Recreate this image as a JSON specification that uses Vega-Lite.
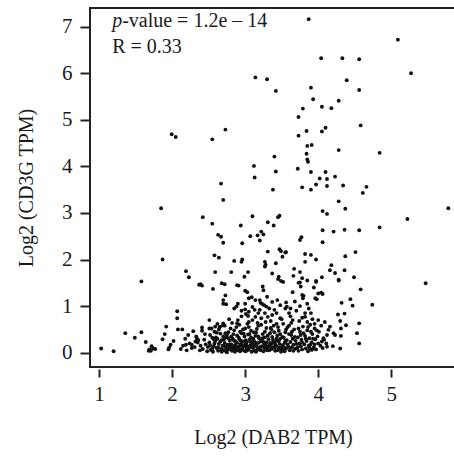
{
  "$schema": "https://vega.github.io/schema/vega-lite/v6.json",
  "width": 366,
  "height": 359,
  "autosize": {"type": "none"},
  "padding": {"left": 90, "top": 8, "right": 0, "bottom": 93},
  "background": "white",
  "config": {
    "view": {"stroke": "#222", "strokeWidth": 2},
    "font": "Liberation Serif",
    "axis": {
      "grid": false,
      "domain": false,
      "tickColor": "#222",
      "tickWidth": 2,
      "labelColor": "#1a1a1a",
      "labelFont": "Liberation Serif",
      "labelFontSize": 21,
      "titleFont": "Liberation Serif",
      "titleFontSize": 20,
      "titleFontWeight": "normal",
      "titleColor": "#1a1a1a"
    }
  },
  "layer": [
    {
      "data": {
        "values": [
          {"x":3.87,"y":7.16},{"x":5.09,"y":6.72},{"x":4.04,"y":6.32},{"x":4.33,"y":6.32},{"x":4.56,"y":6.30},{"x":3.14,"y":5.91},{"x":3.30,"y":5.87},{"x":5.27,"y":6.0},{"x":3.42,"y":5.62},{"x":3.90,"y":5.69},{"x":4.39,"y":5.85},{"x":4.56,"y":5.64},{"x":3.93,"y":5.44},{"x":4.28,"y":5.41},{"x":4.05,"y":5.28},{"x":4.18,"y":5.25},{"x":3.79,"y":5.24},{"x":3.73,"y":5.06},{"x":4.58,"y":4.88},{"x":4.10,"y":4.83},{"x":4.05,"y":4.75},{"x":3.84,"y":4.76},{"x":3.73,"y":4.66},{"x":3.91,"y":4.46},{"x":3.85,"y":4.44},{"x":4.28,"y":4.35},{"x":4.84,"y":4.29},{"x":3.84,"y":4.27},{"x":3.40,"y":4.21},{"x":3.85,"y":4.15},{"x":3.86,"y":4.10},{"x":3.12,"y":4.01},{"x":3.42,"y":3.89},{"x":3.72,"y":3.95},{"x":3.90,"y":3.88},{"x":4.10,"y":3.88},
          {"x":1.995,"y":4.69},{"x":2.05,"y":4.63},{"x":2.55,"y":4.58},{"x":2.73,"y":4.79},{"x":2.67,"y":3.63},{"x":2.70,"y":3.28},{"x":1.85,"y":3.10},{"x":2.42,"y":2.91},{"x":2.55,"y":2.77},
          {"x":3.13,"y":3.76},{"x":3.38,"y":3.50},{"x":3.10,"y":2.93},{"x":3.47,"y":2.94},{"x":3.45,"y":2.91},{"x":3.31,"y":2.80},{"x":3.39,"y":2.73},{"x":2.94,"y":2.73},{"x":2.63,"y":2.53},{"x":2.67,"y":2.49},{"x":3.22,"y":2.60},{"x":3.25,"y":2.54},{"x":3.17,"y":2.52},{"x":3.07,"y":2.50},{"x":3.20,"y":2.41},{"x":2.70,"y":2.36},{"x":2.96,"y":2.35},{"x":3.31,"y":2.17},{"x":3.47,"y":2.22},{"x":3.49,"y":2.18},{"x":3.55,"y":2.15},{"x":1.87,"y":2.0},{"x":2.58,"y":2.09},{"x":2.64,"y":2.04},{"x":2.85,"y":1.97},{"x":2.96,"y":2.0},{"x":2.95,"y":1.95},{"x":3.27,"y":1.95},{"x":3.28,"y":1.89},{"x":3.27,"y":1.85},{"x":3.42,"y":1.92},{"x":3.51,"y":2.06},{"x":2.19,"y":1.75},{"x":2.23,"y":1.62},{"x":2.59,"y":1.73},{"x":2.81,"y":1.73},{"x":3.04,"y":1.73},{"x":2.99,"y":1.63},{"x":3.37,"y":1.70},{"x":3.46,"y":1.63},{"x":3.45,"y":1.58},{"x":3.49,"y":1.54},{"x":3.52,"y":1.52},{"x":2.39,"y":1.47},{"x":2.68,"y":1.49},{"x":2.72,"y":1.47},{"x":2.89,"y":1.45},
          {"x":4.02,"y":3.74},{"x":4.12,"y":3.73},{"x":4.23,"y":3.78},{"x":3.78,"y":3.55},{"x":3.90,"y":3.50},{"x":3.97,"y":3.61},{"x":4.12,"y":3.58},{"x":4.34,"y":3.59},{"x":4.66,"y":3.56},{"x":4.61,"y":3.43},{"x":4.28,"y":3.25},{"x":4.06,"y":3.04},{"x":4.12,"y":2.98},{"x":4.37,"y":3.09},{"x":5.78,"y":3.10},{"x":5.22,"y":2.87},{"x":4.06,"y":2.63},{"x":4.21,"y":2.60},{"x":4.36,"y":2.64},{"x":4.56,"y":2.63},{"x":4.84,"y":2.69},{"x":3.77,"y":2.48},{"x":3.75,"y":2.42},{"x":4.06,"y":2.37},{"x":3.56,"y":2.16},{"x":3.82,"y":2.12},{"x":3.90,"y":2.10},{"x":3.82,"y":1.95},{"x":3.97,"y":2.0},{"x":4.37,"y":2.07},{"x":4.51,"y":2.16},{"x":4.18,"y":1.88},{"x":4.16,"y":1.77},{"x":4.23,"y":1.71},{"x":4.36,"y":1.77},{"x":3.67,"y":1.80},{"x":3.75,"y":1.73},{"x":3.66,"y":1.65},{"x":3.78,"y":1.60},{"x":3.85,"y":1.55},{"x":3.97,"y":1.54},{"x":3.75,"y":1.51},{"x":4.05,"y":1.62},{"x":4.28,"y":1.57},{"x":4.49,"y":1.62},{"x":5.47,"y":1.49},
          {"x":1.58,"y":1.53},{"x":2.07,"y":0.89},{"x":2.07,"y":0.74},{"x":2.08,"y":0.50},{"x":2.14,"y":0.50},{"x":1.92,"y":0.56},{"x":1.90,"y":0.40},{"x":1.87,"y":0.29},{"x":2.02,"y":0.25},{"x":1.98,"y":0.17},{"x":1.96,"y":0.11},{"x":1.95,"y":0.07},{"x":1.58,"y":0.44},{"x":1.36,"y":0.42},{"x":1.49,"y":0.32},{"x":1.64,"y":0.23},{"x":1.03,"y":0.09},{"x":1.20,"y":0.03},{"x":1.72,"y":0.14},{"x":1.69,"y":0.07},{"x":1.68,"y":0.04},{"x":1.74,"y":0.09},{"x":1.77,"y":0.08},{"x":1.71,"y":0.04},{"x":2.19,"y":0.17},{"x":2.29,"y":0.46},{"x":2.27,"y":0.17},{"x":2.32,"y":0.24},{"x":2.34,"y":0.31},{"x":2.36,"y":0.27},{"x":2.37,"y":1.46},
          {"x":2.41,"y":1.44},{"x":2.56,"y":1.37},{"x":2.91,"y":1.44},{"x":3.0,"y":1.33},{"x":3.03,"y":1.30},{"x":3.24,"y":1.42},{"x":3.25,"y":1.34},{"x":2.73,"y":1.23},{"x":2.70,"y":1.13},{"x":2.70,"y":1.05},{"x":2.74,"y":1.04},{"x":2.90,"y":1.05},{"x":2.88,"y":0.99},{"x":2.85,"y":0.95},{"x":3.05,"y":1.17},{"x":3.09,"y":1.19},{"x":3.14,"y":1.13},{"x":3.20,"y":1.13},{"x":3.21,"y":1.07},{"x":3.23,"y":1.05},{"x":3.26,"y":1.02},{"x":3.29,"y":0.99},{"x":3.37,"y":1.09},{"x":3.44,"y":1.13},{"x":3.56,"y":1.08},{"x":3.65,"y":1.30},{"x":3.78,"y":1.24},{"x":3.73,"y":1.50},{"x":3.0,"y":0.93},{"x":3.05,"y":0.88},{"x":3.01,"y":0.83},{"x":3.04,"y":0.79},{"x":3.13,"y":0.92},{"x":3.18,"y":0.85},{"x":3.14,"y":0.77},{"x":3.27,"y":0.85},{"x":3.37,"y":0.81},{"x":3.31,"y":0.77},{"x":3.43,"y":0.85},{"x":3.48,"y":0.74},{"x":3.57,"y":0.99},{"x":3.60,"y":0.85},{"x":2.51,"y":0.70},{"x":2.59,"y":0.56},{"x":2.70,"y":0.63},{"x":2.82,"y":0.64},{"x":2.89,"y":0.63},
          {"x":3.76,"y":1.42},{"x":3.80,"y":1.22},{"x":3.79,"y":1.17},{"x":3.94,"y":1.40},{"x":3.97,"y":1.52},{"x":3.96,"y":1.17},{"x":3.98,"y":1.15},{"x":4.0,"y":1.27},{"x":4.04,"y":1.29},{"x":4.06,"y":1.26},{"x":4.28,"y":1.55},{"x":4.58,"y":1.36},{"x":4.32,"y":1.07},{"x":4.44,"y":1.15},{"x":4.47,"y":1.01},{"x":4.74,"y":1.03},{"x":4.27,"y":0.82},{"x":4.36,"y":0.84},{"x":4.30,"y":0.68},{"x":4.31,"y":0.52},{"x":4.31,"y":0.36},{"x":4.38,"y":0.59},{"x":4.56,"y":0.63},{"x":4.53,"y":0.42},{"x":4.56,"y":0.20},{"x":4.30,"y":0.09},{"x":4.20,"y":0.14},{"x":4.11,"y":0.20},{"x":4.12,"y":0.13},{"x":4.07,"y":0.31},{"x":4.12,"y":0.38},{"x":4.0,"y":0.20},{"x":4.05,"y":0.24},{"x":4.21,"y":0.42},{"x":4.23,"y":0.38},{"x":3.91,"y":0.06},{"x":3.89,"y":0.17},{"x":3.93,"y":0.09},{"x":3.82,"y":0.85},{"x":3.82,"y":0.77},{"x":3.87,"y":0.95},{"x":4.14,"y":0.49},{"x":4.16,"y":0.56},
          {"x":2.41,"y":0.54},{"x":2.51,"y":0.52},{"x":2.66,"y":0.56},{"x":2.70,"y":0.59},
          {"x":2.31,"y":0.12},{"x":2.35,"y":0.22},{"x":2.38,"y":0.05},{"x":2.33,"y":0.35},{"x":2.39,"y":0.15},
          {"x":2.42,"y":0.08},{"x":2.44,"y":0.28},{"x":2.46,"y":0.18},{"x":2.48,"y":0.03},{"x":2.45,"y":0.40},{"x":2.49,"y":0.12},{"x":2.41,"y":0.47},
          {"x":2.51,"y":0.22},{"x":2.53,"y":0.06},{"x":2.55,"y":0.32},{"x":2.57,"y":0.14},{"x":2.58,"y":0.45},{"x":2.52,"y":0.38},{"x":2.56,"y":0.02},{"x":2.59,"y":0.25},{"x":2.54,"y":0.52},
          {"x":2.61,"y":0.10},{"x":2.62,"y":0.30},{"x":2.63,"y":0.04},{"x":2.64,"y":0.19},{"x":2.66,"y":0.41},{"x":2.67,"y":0.08},{"x":2.68,"y":0.27},{"x":2.69,"y":0.15},{"x":2.65,"y":0.55},{"x":2.62,"y":0.62},{"x":2.68,"y":0.02},{"x":2.70,"y":0.35},
          {"x":2.71,"y":0.05},{"x":2.72,"y":0.21},{"x":2.73,"y":0.12},{"x":2.74,"y":0.33},{"x":2.75,"y":0.01},{"x":2.76,"y":0.17},{"x":2.77,"y":0.44},{"x":2.78,"y":0.09},{"x":2.79,"y":0.26},{"x":2.72,"y":0.58},{"x":2.75,"y":0.38},{"x":2.78,"y":0.14},{"x":2.74,"y":0.03},{"x":2.80,"y":0.07},
          {"x":2.81,"y":0.18},{"x":2.82,"y":0.04},{"x":2.83,"y":0.30},{"x":2.84,"y":0.11},{"x":2.85,"y":0.48},{"x":2.86,"y":0.02},{"x":2.87,"y":0.23},{"x":2.88,"y":0.13},{"x":2.89,"y":0.37},{"x":2.83,"y":0.08},{"x":2.86,"y":0.16},{"x":2.88,"y":0.55},{"x":2.90,"y":0.05},{"x":2.84,"y":0.27},
          {"x":2.91,"y":0.12},{"x":2.92,"y":0.29},{"x":2.93,"y":0.03},{"x":2.94,"y":0.19},{"x":2.95,"y":0.42},{"x":2.96,"y":0.08},{"x":2.97,"y":0.24},{"x":2.98,"y":0.14},{"x":2.99,"y":0.35},{"x":2.92,"y":0.60},{"x":2.95,"y":0.06},{"x":2.97,"y":0.50},{"x":3.00,"y":0.18},{"x":2.93,"y":0.15},
          {"x":3.01,"y":0.03},{"x":3.02,"y":0.22},{"x":3.03,"y":0.11},{"x":3.04,"y":0.39},{"x":3.05,"y":0.07},{"x":3.06,"y":0.28},{"x":3.07,"y":0.16},{"x":3.08,"y":0.47},{"x":3.09,"y":0.02},{"x":3.03,"y":0.62},{"x":3.06,"y":0.13},{"x":3.08,"y":0.33},{"x":3.10,"y":0.20},{"x":3.02,"y":0.09},{"x":3.05,"y":0.55},
          {"x":3.11,"y":0.10},{"x":3.12,"y":0.25},{"x":3.13,"y":0.04},{"x":3.14,"y":0.36},{"x":3.15,"y":0.15},{"x":3.16,"y":0.51},{"x":3.17,"y":0.08},{"x":3.18,"y":0.21},{"x":3.19,"y":0.31},{"x":3.12,"y":0.44},{"x":3.15,"y":0.02},{"x":3.17,"y":0.64},{"x":3.20,"y":0.12},{"x":3.13,"y":0.18},
          {"x":3.21,"y":0.06},{"x":3.22,"y":0.27},{"x":3.23,"y":0.14},{"x":3.24,"y":0.40},{"x":3.25,"y":0.03},{"x":3.26,"y":0.19},{"x":3.27,"y":0.33},{"x":3.28,"y":0.09},{"x":3.29,"y":0.53},{"x":3.22,"y":0.60},{"x":3.25,"y":0.23},{"x":3.28,"y":0.16},{"x":3.30,"y":0.05},
          {"x":3.31,"y":0.13},{"x":3.32,"y":0.29},{"x":3.33,"y":0.05},{"x":3.34,"y":0.42},{"x":3.35,"y":0.18},{"x":3.36,"y":0.08},{"x":3.37,"y":0.34},{"x":3.38,"y":0.22},{"x":3.39,"y":0.58},{"x":3.33,"y":0.15},{"x":3.36,"y":0.49},{"x":3.40,"y":0.10},
          {"x":3.41,"y":0.04},{"x":3.42,"y":0.24},{"x":3.43,"y":0.14},{"x":3.44,"y":0.37},{"x":3.45,"y":0.07},{"x":3.46,"y":0.47},{"x":3.47,"y":0.19},{"x":3.48,"y":0.30},{"x":3.49,"y":0.02},{"x":3.43,"y":0.62},{"x":3.47,"y":0.11},
          {"x":3.51,"y":0.16},{"x":3.52,"y":0.06},{"x":3.53,"y":0.32},{"x":3.54,"y":0.21},{"x":3.55,"y":0.44},{"x":3.56,"y":0.09},{"x":3.57,"y":0.27},{"x":3.58,"y":0.55},{"x":3.59,"y":0.13},{"x":3.54,"y":0.03},
          {"x":3.61,"y":0.05},{"x":3.62,"y":0.23},{"x":3.63,"y":0.38},{"x":3.64,"y":0.12},{"x":3.65,"y":0.30},{"x":3.66,"y":0.17},{"x":3.67,"y":0.50},{"x":3.68,"y":0.08},{"x":3.69,"y":0.26},{"x":3.63,"y":0.64},
          {"x":3.71,"y":0.10},{"x":3.72,"y":0.33},{"x":3.73,"y":0.04},{"x":3.74,"y":0.20},{"x":3.75,"y":0.45},{"x":3.76,"y":0.14},{"x":3.77,"y":0.28},{"x":3.78,"y":0.07},{"x":3.79,"y":0.56},{"x":3.74,"y":0.68},
          {"x":3.81,"y":0.18},{"x":3.82,"y":0.36},{"x":3.83,"y":0.09},{"x":3.84,"y":0.25},{"x":3.85,"y":0.48},{"x":3.86,"y":0.03},{"x":3.87,"y":0.15},{"x":3.88,"y":0.31},{"x":3.89,"y":0.60},
          {"x":3.91,"y":0.22},{"x":3.92,"y":0.40},{"x":3.94,"y":0.12},{"x":3.95,"y":0.52},{"x":3.96,"y":0.29},{"x":3.97,"y":0.07},{"x":3.99,"y":0.35},
          {"x":4.01,"y":0.45},{"x":4.03,"y":0.15},{"x":4.04,"y":0.58},{"x":4.06,"y":0.10},{"x":4.08,"y":0.28},{"x":4.09,"y":0.66},
          {"x":2.12,"y":0.08},{"x":2.15,"y":0.15},{"x":2.20,"y":0.05},{"x":2.24,"y":0.20},{"x":2.27,"y":0.10},{"x":2.22,"y":0.38},{"x":2.18,"y":0.30},
          {"x":2.78,"y":0.72},{"x":2.95,"y":0.78},{"x":3.10,"y":0.70},{"x":3.22,"y":0.74},{"x":3.35,"y":0.68},{"x":3.50,"y":0.72},{"x":3.62,"y":0.78},{"x":3.70,"y":0.90},{"x":3.55,"y":0.95},{"x":3.40,"y":0.92},{"x":3.85,"y":1.05},{"x":3.92,"y":0.72},{"x":3.68,"y":1.10},{"x":3.30,"y":1.20},{"x":3.00,"y":1.05},
          {"x":2.52,"y":0.16},{"x":2.55,"y":0.09},{"x":2.58,"y":0.20},{"x":2.60,"y":0.33},{"x":2.63,"y":0.12},{"x":2.66,"y":0.24},{"x":2.69,"y":0.06},{"x":2.61,"y":0.43},{"x":2.57,"y":0.29},{"x":2.64,"y":0.50},
          {"x":2.71,"y":0.29},{"x":2.73,"y":0.42},{"x":2.76,"y":0.07},{"x":2.77,"y":0.31},{"x":2.79,"y":0.18},{"x":2.81,"y":0.35},{"x":2.82,"y":0.12},{"x":2.84,"y":0.40},{"x":2.86,"y":0.25},{"x":2.87,"y":0.09},{"x":2.89,"y":0.21},{"x":2.71,"y":0.15},
          {"x":2.91,"y":0.33},{"x":2.92,"y":0.07},{"x":2.94,"y":0.26},{"x":2.96,"y":0.15},{"x":2.98,"y":0.41},{"x":2.99,"y":0.04},{"x":3.01,"y":0.27},{"x":3.02,"y":0.15},{"x":3.04,"y":0.06},{"x":3.06,"y":0.40},{"x":3.07,"y":0.24},{"x":3.09,"y":0.12},{"x":2.93,"y":0.45},{"x":3.00,"y":0.52},
          {"x":3.11,"y":0.30},{"x":3.12,"y":0.14},{"x":3.14,"y":0.22},{"x":3.15,"y":0.43},{"x":3.16,"y":0.05},{"x":3.18,"y":0.35},{"x":3.19,"y":0.11},{"x":3.21,"y":0.24},{"x":3.22,"y":0.05},{"x":3.24,"y":0.31},{"x":3.26,"y":0.11},{"x":3.27,"y":0.45},{"x":3.29,"y":0.22},
          {"x":3.31,"y":0.37},{"x":3.32,"y":0.08},{"x":3.34,"y":0.21},{"x":3.35,"y":0.53},{"x":3.37,"y":0.12},{"x":3.38,"y":0.28},{"x":3.40,"y":0.44},{"x":3.41,"y":0.17},{"x":3.43,"y":0.30},{"x":3.44,"y":0.05},{"x":3.46,"y":0.25},{"x":3.48,"y":0.40},{"x":3.50,"y":0.08},
          {"x":3.51,"y":0.34},{"x":3.53,"y":0.12},{"x":3.55,"y":0.25},{"x":3.56,"y":0.50},{"x":3.58,"y":0.18},{"x":3.60,"y":0.40},{"x":3.62,"y":0.10},{"x":3.64,"y":0.45},{"x":3.66,"y":0.04},{"x":3.68,"y":0.34},{"x":3.70,"y":0.19},
          {"x":3.72,"y":0.12},{"x":3.73,"y":0.52},{"x":3.76,"y":0.38},{"x":3.78,"y":0.22},{"x":3.80,"y":0.42},{"x":3.83,"y":0.30},{"x":3.86,"y":0.55},{"x":3.88,"y":0.10},{"x":3.90,"y":0.45},{"x":3.93,"y":0.30},{"x":3.95,"y":0.18},{"x":3.98,"y":0.48},
          {"x":2.80,"y":0.52},{"x":2.90,"y":0.70},{"x":3.05,"y":0.66},{"x":3.18,"y":0.58},{"x":3.28,"y":0.66},{"x":3.45,"y":0.55},{"x":3.52,"y":0.62},{"x":3.60,"y":0.58},{"x":3.65,"y":0.70},{"x":3.78,"y":0.75},{"x":3.85,"y":0.66},{"x":3.95,"y":0.62},{"x":3.20,"y":0.92},{"x":3.33,"y":0.95},{"x":3.48,"y":1.02},{"x":3.62,"y":0.95},{"x":3.75,"y":1.00},{"x":2.95,"y":0.90},{"x":3.10,"y":0.98},{"x":3.90,"y":0.85},{"x":4.00,"y":0.70}
        ]
      },
      "mark": {"type": "circle", "size": 15, "color": "#111", "opacity": 1},
      "encoding": {
        "x": {
          "field": "x", "type": "quantitative",
          "scale": {"domain": [0.877, 5.885], "nice": false, "zero": false},
          "axis": {"values": [1, 2, 3, 4, 5], "format": "d", "orient": "bottom", "offset": 2, "tickSize": 8, "labelPadding": 6, "title": "Log2 (DAB2 TPM)", "titlePadding": 23}
        },
        "y": {
          "field": "y", "type": "quantitative",
          "scale": {"domain": [-0.307, 7.4], "nice": false, "zero": false},
          "axis": {"values": [0, 1, 2, 3, 4, 5, 6, 7], "format": "d", "tickSize": 10, "labelPadding": 8, "title": "Log2 (CD3G TPM)", "titlePadding": 25}
        }
      }
    },
    {
      "data": {"values": [{}]},
      "mark": {"type": "text", "font": "Liberation Serif", "fontSize": 20, "fontStyle": "italic", "align": "left", "baseline": "alphabetic", "color": "#1a1a1a"},
      "encoding": {"x": {"datum": 1.18}, "y": {"datum": 7.0}, "text": {"value": "p"}}
    },
    {
      "data": {"values": [{}]},
      "mark": {"type": "text", "font": "Liberation Serif", "fontSize": 20, "align": "left", "baseline": "alphabetic", "color": "#1a1a1a", "dx": 10},
      "encoding": {"x": {"datum": 1.18}, "y": {"datum": 7.0}, "text": {"value": "-value = 1.2e – 14"}}
    },
    {
      "data": {"values": [{}]},
      "mark": {"type": "text", "font": "Liberation Serif", "fontSize": 20, "align": "left", "baseline": "alphabetic", "color": "#1a1a1a"},
      "encoding": {"x": {"datum": 1.18}, "y": {"datum": 6.43}, "text": {"value": "R = 0.33"}}
    }
  ]
}
